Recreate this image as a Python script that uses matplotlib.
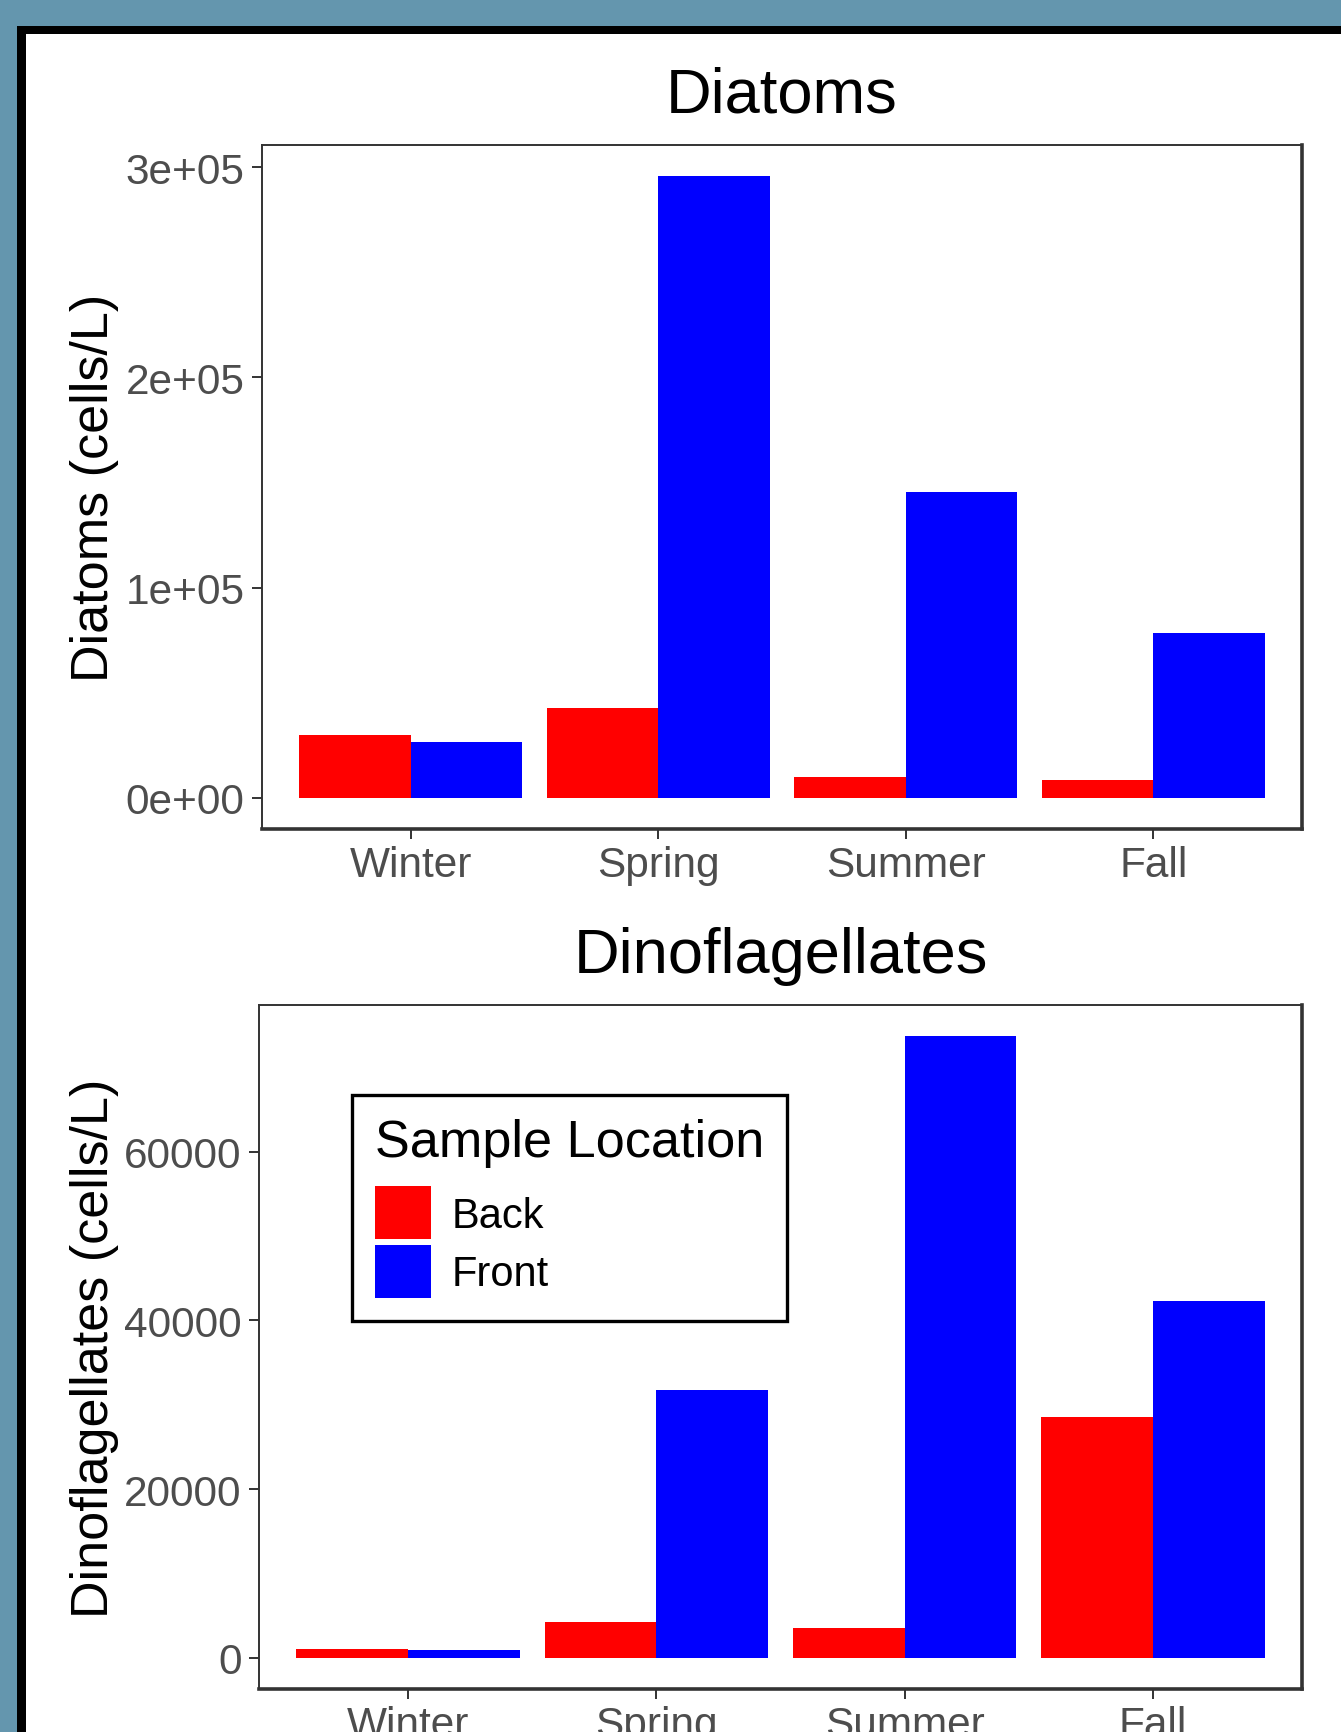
import numpy as np
import matplotlib
matplotlib.use("Agg")
import matplotlib.pyplot as plt
from matplotlib.patches import Rectangle, Patch

plt.rcParams['font.family'] = ['Liberation Sans', 'DejaVu Sans']

# ---- data ----
seasons = ["Winter", "Spring", "Summer", "Fall"]
locations = ["Back", "Front"]
diatoms_back = [30000, 43000, 10000, 8400]
diatoms_front = [26800, 295800, 145300, 78400]
dino_back = [1100, 4300, 3600, 28600]
dino_front = [900, 31800, 73700, 42300]
diatom_ticks = [0, 100000, 200000, 300000]
diatom_ticklabels = ["0e+00", "1e+05", "2e+05", "3e+05"]
dino_ticks = [0, 20000, 40000, 60000]
dino_ticklabels = ["0", "20000", "40000", "60000"]

colors = {"Back": "#FF0000", "Front": "#0000FF"}

W, H = 1341, 1733
fig = plt.figure(figsize=(W / 100, H / 100), dpi=100)
fig.patch.set_facecolor("white")

# frame decoration (blue border + black frame)
blue = "#6496AE"
fig.patches.append(Rectangle((0, 1 - 27 / H), 1, 27 / H, transform=fig.transFigure,
                             facecolor=blue, edgecolor="none", zorder=-10))
fig.patches.append(Rectangle((0, 0), 17 / W, 1, transform=fig.transFigure,
                             facecolor=blue, edgecolor="none", zorder=-10))
fig.patches.append(Rectangle((17 / W, 1 - 35 / H), 1 - 17 / W, 8 / H, transform=fig.transFigure,
                             facecolor="black", edgecolor="none", zorder=-9))
fig.patches.append(Rectangle((17 / W, 0), 8.5 / W, 1 - 27 / H, transform=fig.transFigure,
                             facecolor="black", edgecolor="none", zorder=-9))


def px_axes(left, right, top, bottom):
    return [left / W, 1 - bottom / H, (right - left) / W, (bottom - top) / H]


ax1 = fig.add_axes(px_axes(262, 1302, 146, 830))
ax2 = fig.add_axes(px_axes(259, 1302, 1006, 1690))

x = np.arange(len(seasons))
bw = 0.45


def style(ax, back, front, ticks, ticklabels, title, ylabel, labx):
    ax.bar(x - bw / 2, back, width=bw, color=colors["Back"], edgecolor="none")
    ax.bar(x + bw / 2, front, width=bw, color=colors["Front"], edgecolor="none")
    top = max(max(back), max(front))
    ax.set_ylim(-0.05 * top, 1.05 * top)
    ax.set_xlim(-0.6, len(seasons) - 0.4)
    ax.set_xticks(x)
    ax.set_xticklabels(seasons)
    ax.set_yticks(ticks)
    ax.set_yticklabels(ticklabels)
    ax.tick_params(axis="both", colors="#333333", labelcolor="#4D4D4D",
                   labelsize=30.5, length=7.2, width=1.4, direction="out")
    ax.tick_params(axis="x", pad=4.5)
    ax.tick_params(axis="y", pad=5.4)
    for s in ["top", "left"]:
        ax.spines[s].set_linewidth(1.4)
        ax.spines[s].set_color("#333333")
    for s in ["bottom", "right"]:
        ax.spines[s].set_linewidth(2.6)
        ax.spines[s].set_color("#333333")
    ax.set_title(title, fontsize=45.5, color="black", pad=23.8)
    ax.set_ylabel(ylabel, fontsize=37.5, color="black")
    ax.yaxis.set_label_coords(labx, 0.5)


style(ax1, diatoms_back, diatoms_front, diatom_ticks, diatom_ticklabels,
      "Diatoms", "Diatoms (cells/L)", (119 - 262) / 1040)
style(ax2, dino_back, dino_front, dino_ticks, dino_ticklabels,
      "Dinoflagellates", "Dinoflagellates (cells/L)", (119 - 259) / 1043)

handles = [Patch(facecolor=colors[l], edgecolor="none") for l in locations]
leg = ax2.legend(handles, locations, title="Sample Location", loc="upper left",
                 bbox_to_anchor=((352 - 259) / 1043, 1 - (1096 - 1006) / 684),
                 borderaxespad=0, fontsize=30, title_fontsize=37.6,
                 handlelength=1.34, handleheight=1.58, handletextpad=0.5,
                 labelspacing=0.14, borderpad=0.55, frameon=True, fancybox=False,
                 framealpha=1, edgecolor="black", alignment="left")
leg.get_frame().set_linewidth(2.4)
leg._legend_box.sep = 14

fig.savefig("out.png", dpi=100, facecolor=fig.get_facecolor())
